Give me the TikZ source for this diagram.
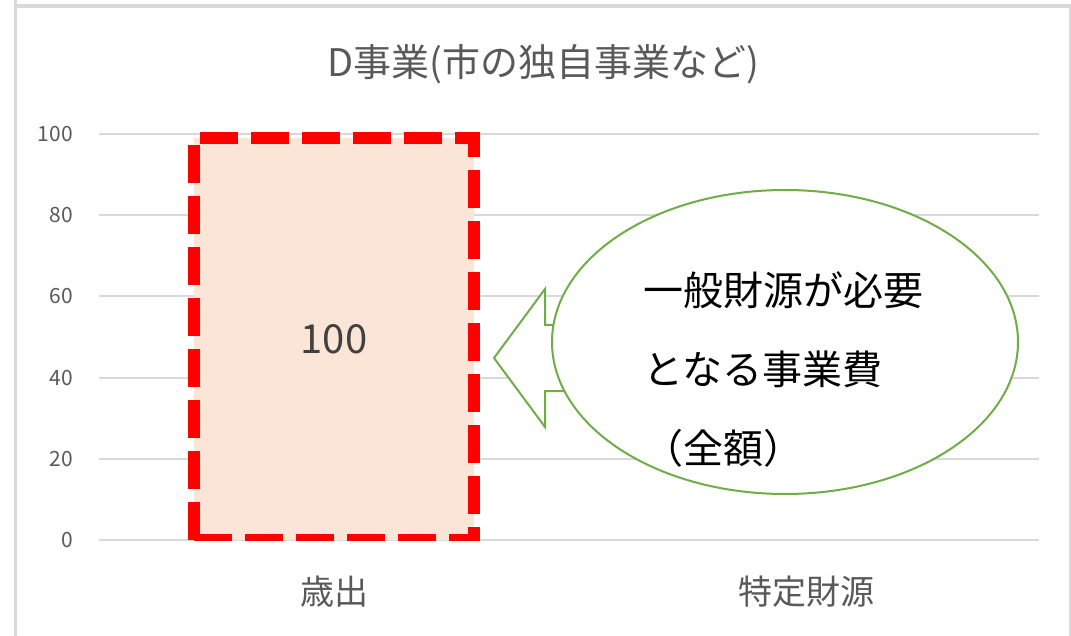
\documentclass[tikz,border=0pt]{standalone}
\usepackage{fontspec}
\setmainfont{Noto Sans CJK JP}
\usetikzlibrary{positioning,shapes.geometric}
\definecolor{gridgray}{HTML}{D9D9D9}
\definecolor{axisgray}{HTML}{595959}
\definecolor{labelgray}{HTML}{404040}
\definecolor{barfill}{HTML}{FBE5D6}
\definecolor{calloutgreen}{HTML}{70AD47}

\begin{document}
\begin{tikzpicture}[x=1pt,y=-1pt,
		frame/.style={draw=gridgray},
		gridline/.style={draw=gridgray,line width=2pt},
		ticklabel/.style={anchor=east,inner sep=0pt,text=axisgray,font=\fontsize{21}{21}\selectfont},
		catlabel/.style={inner sep=0pt,text=axisgray,font=\fontsize{34}{34}\selectfont},
		bar/.style={fill=barfill,draw=red,line width=12pt,dash pattern=on 38pt off 13pt,minimum width=280pt,minimum height=402pt,inner sep=0pt,text=labelgray,font=\fontsize{40}{40}\selectfont},
		bubble/.style={ellipse,draw=calloutgreen,line width=2pt,fill=white,minimum width=466pt,minimum height=304pt,inner sep=0pt},
		blockarrow/.style={draw=calloutgreen,line width=2pt,fill=white,line join=miter}]
	\useasboundingbox (0,0) rectangle (1071,636);
	\draw[frame,line width=3pt] (15.5,0) -- (15.5,636);
	\draw[frame,line width=4pt] (15.5,6) -- (1071,6);
	\draw[frame,line width=1.5pt] (1070,8) -- (1070,636);
	\node[text=axisgray,font=\fontsize{38}{38}\selectfont] (title) at (543,64) {D事業(市の独自事業など)};
	\foreach \v/\y in {0/540,20/459,40/378,60/296,80/215,100/134} {
		\draw[gridline] (99,\y) -- (1039,\y);
		\node[ticklabel] (tick\v) at (73,\y) {\v};
	}
	\begin{scope}
		\clip (150,120) rectangle (520,540);
		\node[bar] (spend) at (334,339) {100};
	\end{scope}
	\node[catlabel] (spend label) at (334,592) {歳出};
	\node[catlabel] (source label) at (806,592) {特定財源};
	\coordinate (tip) at (494,358);
	\draw[blockarrow] (tip) -- ++(51,-69) -- ++(0,36) -- ++(90,0) -- ++(0,66) -- ++(-90,0) -- ++(0,36) -- cycle;
	\node[bubble] (bubble) at (785,342) {};
	\node[anchor=north west,align=left,inner sep=0pt,font=\fontsize{40}{79}\selectfont] (bubble text) at (643,271) {一般財源が必要\\となる事業費\\（全額）};
\end{tikzpicture}
\end{document}
